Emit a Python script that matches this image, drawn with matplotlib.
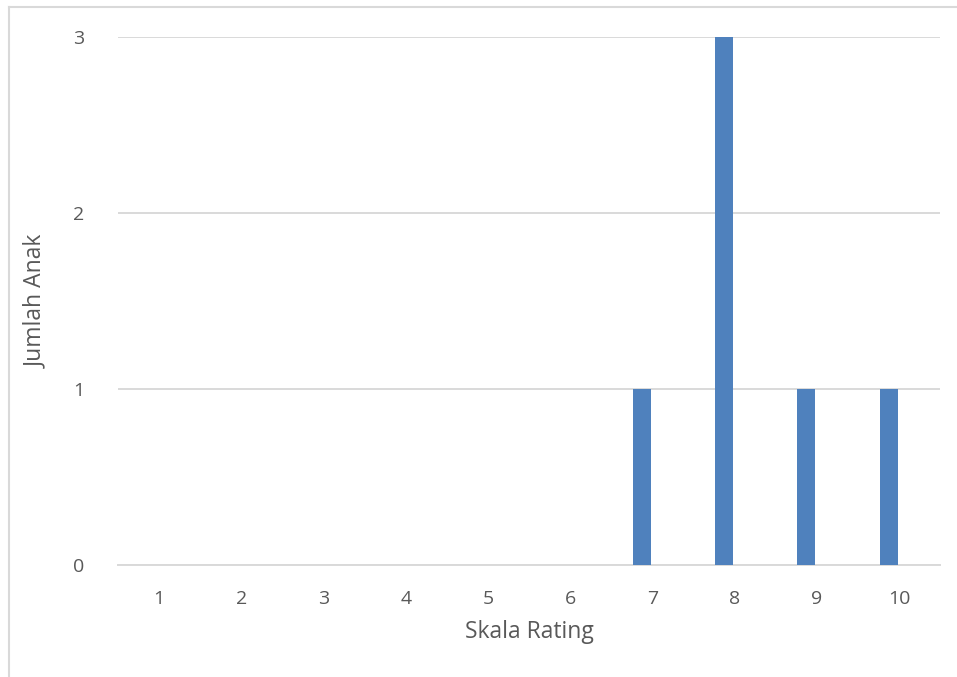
import matplotlib
matplotlib.use("Agg")
import matplotlib.pyplot as plt
from matplotlib.lines import Line2D

# nilai rating dan jumlah anak
rating = [1, 2, 3, 4, 5, 6, 7, 8, 9, 10]
jumlah = [0, 0, 0, 0, 0, 0, 1, 3, 1, 1]
y_ticks = [0, 1, 2, 3]

plt.rcParams['font.family'] = ['Open Sans', 'DejaVu Sans']
teks = '#595959'

fig = plt.figure(figsize=(9.57, 6.77), dpi=100)
ax = fig.add_axes([118/957, 1 - 565/677, 822/957, 528/677])

pos = list(range(len(rating)))
# batang sedikit ke kiri dari label (seperti di Excel)
ax.bar([p - 0.235 for p in pos], jumlah, width=0.22, align='edge',
       color='#4F81BD', zorder=3)

ax.set_xlim(-0.5, len(rating) - 0.5)
ax.set_ylim(0, 3)
ax.set_xticks(pos)
ax.set_xticklabels([str(r) for r in rating])
ax.set_yticks(y_ticks)
ax.yaxis.grid(True, color='#D9D9D9', linewidth=1.4)
ax.set_axisbelow(True)

for s in ['top', 'right', 'left']:
    ax.spines[s].set_visible(False)
ax.spines['bottom'].set_color('#D9D9D9')
ax.spines['bottom'].set_linewidth(1.4)
ax.tick_params(axis='both', length=0, labelsize=14, colors=teks)
ax.tick_params(axis='x', pad=18)
ax.tick_params(axis='y', pad=24)

ax.set_xlabel('Skala Rating', fontsize=16.5, color=teks, labelpad=9)
ax.set_ylabel('Jumlah Anak', fontsize=16.5, color=teks, labelpad=18)

# bingkai chart
fig.add_artist(Line2D([9/957, 9/957], [0, 1 - 7/677], color='#D9D9D9', linewidth=1.5))
fig.add_artist(Line2D([9/957, 1], [1 - 7/677, 1 - 7/677], color='#D9D9D9', linewidth=1.5))

fig.savefig('out.png', dpi=100)
